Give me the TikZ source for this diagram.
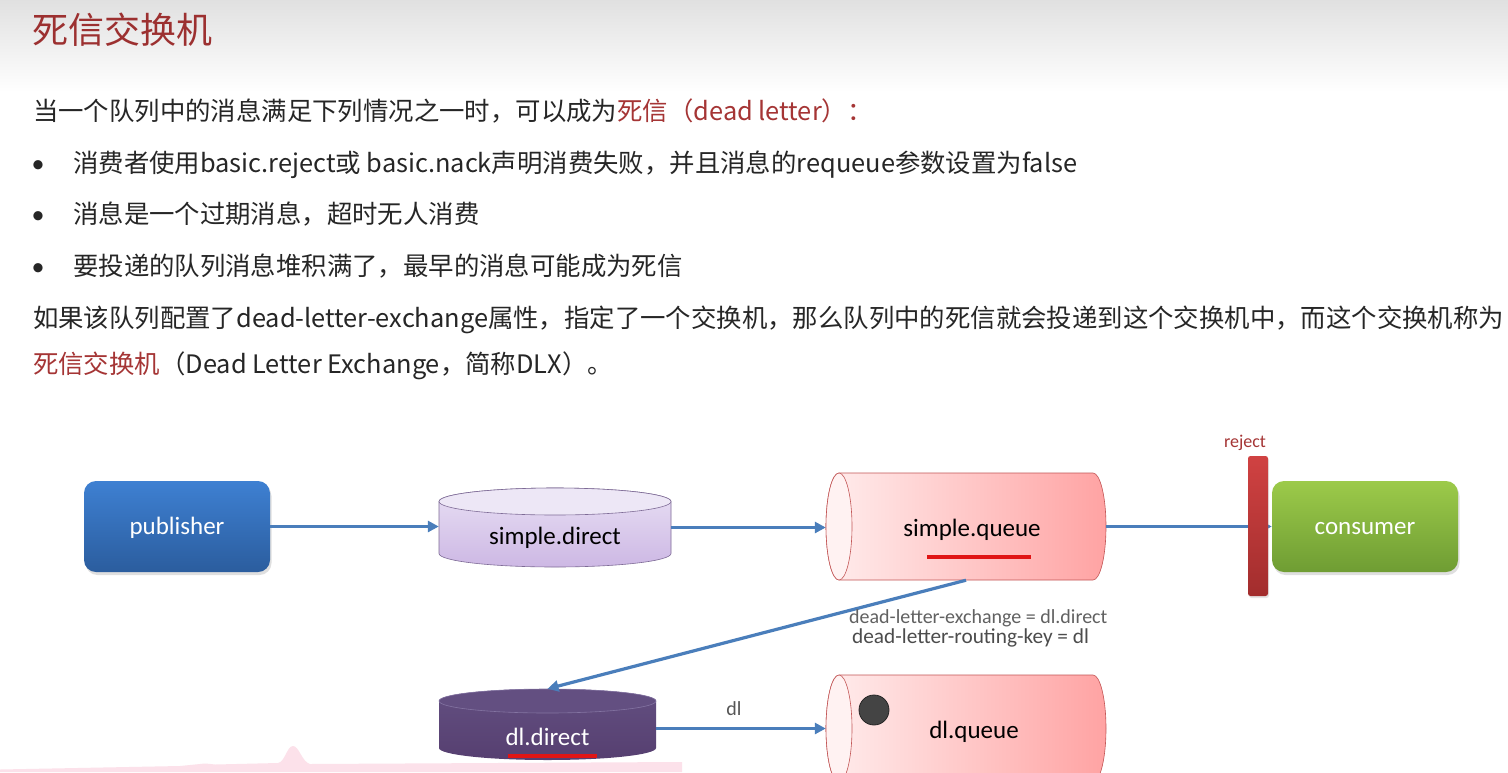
\documentclass[tikz,border=0pt]{standalone}
\usepackage{fontspec}
\setmainfont{Noto Sans CJK SC}
\newfontfamily\latf{Carlito}
\usetikzlibrary{shadows,arrows.meta,calc}
\definecolor{titlered}{HTML}{9C3030}
\definecolor{deadred}{HTML}{A53535}
\definecolor{bodytext}{HTML}{262626}
\definecolor{arrowblue}{HTML}{4A7EBB}
\definecolor{pubtop}{HTML}{3E80D2}
\definecolor{pubbot}{HTML}{2B5D9E}
\definecolor{contop}{HTML}{9CCA4A}
\definecolor{conbot}{HTML}{6F9D33}
\definecolor{sdtop}{HTML}{E8DFF4}
\definecolor{sdbot}{HTML}{CDB8E4}
\definecolor{sdface}{HTML}{EDE7F6}
\definecolor{sdline}{HTML}{7E6B96}
\definecolor{sqleft}{HTML}{FFEDED}
\definecolor{sqright}{HTML}{FFA3A3}
\definecolor{sqface}{HTML}{FFF2F2}
\definecolor{sqline}{HTML}{C25555}
\definecolor{ddtop}{HTML}{634F81}
\definecolor{ddbot}{HTML}{563F70}
\definecolor{ddline}{HTML}{8474A2}
\definecolor{rejtop}{HTML}{D04242}
\definecolor{rejbot}{HTML}{A22D2D}
\definecolor{ulred}{HTML}{E01515}
\definecolor{dlgray}{HTML}{555555}
\definecolor{pinkband}{HTML}{FCE1EA}
\definecolor{dotgray}{HTML}{444444}
\tikzset{
  body/.style={anchor=base west, inner sep=0pt, font=\fontsize{25.4}{30}\selectfont, text=bodytext},
  bulletmark/.style={anchor=base, inner sep=0pt, font=\latf\fontsize{26}{30}\selectfont, text=bodytext},
  lbl/.style={inner sep=0pt, font=\latf\fontsize{25}{30}\selectfont, text height=16.5pt, text depth=0pt},
  small/.style={inner sep=0pt, font=\latf\fontsize{20}{24}\selectfont, text=dlgray},
  rbox/.style={lbl, rounded corners=12pt, minimum width=186pt, minimum height=91pt, text=white,
     drop shadow={opacity=0.25, shadow xshift=1.5pt, shadow yshift=-3pt}},
  region/.style={inner sep=0pt},
  conn/.style={draw=arrowblue, line width=3.2pt, -{Triangle[length=11pt,width=11pt]}},
  uline/.style={draw=ulred, line width=4pt},
}
\begin{document}
\begin{tikzpicture}[x=1pt,y=-1pt]
\useasboundingbox (0,0) rectangle (1508,772);
\clip (0,0) rectangle (1508,772);
\fill[white] (0,0) rectangle (1508,772);
\shade[top color=black!12, bottom color=white] (0,0) rectangle (1508,92);

% texts
\node[anchor=base west, inner sep=0pt, font=\fontsize{36}{40}\selectfont, text=titlered] (title) at (32,43) {死信交换机};
\node[body] (l1) at (33,120.5) {当一个队列中的消息满足下列情况之一时，可以成为\textcolor{deadred}{死信（dead letter）：}};
\node[bulletmark] (b1) at (38,172.5) {•};
\node[body] (l2) at (73,172.5) {消费者使用basic.reject或 basic.nack声明消费失败，并且消息的requeue参数设置为false};
\node[bulletmark] (b2) at (38,223.5) {•};
\node[body] (l3) at (73,223.5) {消息是一个过期消息，超时无人消费};
\node[bulletmark] (b3) at (38,275.5) {•};
\node[body] (l4) at (73,275.5) {要投递的队列消息堆积满了，最早的消息可能成为死信};
\node[body] (l5) at (33,327.5) {如果该队列配置了dead-letter-exchange属性，指定了一个交换机，那么队列中的死信就会投递到这个交换机中，而这个交换机称为};
\node[body] (l6) at (33,373.5) {\textcolor{deadred}{死信交换机}（Dead Letter Exchange，简称DLX）。};

% pink band at the bottom
\fill[pinkband] (0,772) -- (0,769.5) -- (180,766) -- (200,764) .. controls (205,763) and (210,764) .. (215,764.5)
  -- (278,763) .. controls (285,762) and (287,746) .. (293,746) .. controls (299,746) and (302,762) .. (310,764)
  -- (682,762) -- (682,772) -- cycle;

% publisher
\node[rbox, top color=pubtop, bottom color=pubbot] (pub) at (177,526.5) {publisher};

% simple.direct (vertical cylinder)
\shade[top color=sdtop, bottom color=sdbot, draw=sdline, line width=0.6pt]
  (439,501.5) -- (439,553.5) arc[start angle=180,end angle=0,x radius=116,y radius=13.5]
  -- (671,501.5) arc[start angle=0,end angle=-180,x radius=116,y radius=13.5] -- cycle;
\filldraw[fill=sdface, draw=sdline, line width=0.6pt] (555,501.5) ellipse[x radius=116,y radius=13.5];
\node[region, minimum width=232pt, minimum height=79pt] (sd) at (555,527.5) {};
\node[lbl, text=black] (sdt) at (555,536) {simple.direct};

% simple.queue (horizontal cylinder)
\shade[left color=sqleft, right color=sqright, draw=sqline, line width=0.6pt]
  (839,473) -- (1093,473) arc[start angle=-90,end angle=90,x radius=13,y radius=53.5]
  -- (839,580) arc[start angle=90,end angle=270,x radius=13,y radius=53.5] -- cycle;
\filldraw[fill=sqface, draw=sqline, line width=0.6pt] (839,526.5) ellipse[x radius=13,y radius=53.5];
\node[region, minimum width=280pt, minimum height=107pt] (sq) at (966,526.5) {};
\node[lbl, text=black] (sqt) at (972,528) {simple.queue};
\draw[uline] (927,557) -- (1031,557);

% consumer
\node[rbox, top color=contop, bottom color=conbot] (con) at (1365,526.5) {consumer};

% dl.direct (vertical cylinder)
\shade[top color=ddtop, bottom color=ddbot]
  (439,701) -- (439,748) arc[start angle=180,end angle=0,x radius=108.5,y radius=12]
  -- (656,701) arc[start angle=0,end angle=-180,x radius=108.5,y radius=12] -- cycle;
\filldraw[fill=ddtop, draw=ddline, line width=0.6pt] (547.5,701) ellipse[x radius=108.5,y radius=12];
\node[region, minimum width=217pt, minimum height=71pt] (dd) at (547.5,724.5) {};
\node[lbl, text=white] (ddt) at (547.5,737) {dl.direct};
\draw[uline] (508,756) -- (597,756);

% dl.queue (horizontal cylinder)
\shade[left color=sqleft, right color=sqright, draw=sqline, line width=0.6pt]
  (839,675) -- (1093,675) arc[start angle=-90,end angle=90,x radius=13,y radius=53.5]
  -- (839,782) arc[start angle=90,end angle=270,x radius=13,y radius=53.5] -- cycle;
\filldraw[fill=sqface, draw=sqline, line width=0.6pt] (839,728.5) ellipse[x radius=13,y radius=53.5];
\node[region, minimum width=280pt, minimum height=107pt] (dq) at (966,728.5) {};
\node[lbl, text=black] (dqt) at (974,730) {dl.queue};
\filldraw[fill=dotgray, draw=black!85, line width=0.8pt] (874,710) circle[radius=15];

% connectors
\draw[conn] (pub.east) -- (pub.east -| sd.west);
\draw[conn] (sd.east) -- (sd.east -| sq.west);
\draw[conn] (sq.east) -- (con.west);
\draw[conn] (sq.south) -- (dd.north);
\draw[conn] (dd.east |- dq.west) -- (dq.west);

% labels
\node[small] (dll) at (734,709) {dl};
\node[small, anchor=west, font=\latf\fontsize{20}{22}\selectfont, text=black!62] (dlx1) at (849,618) {dead-letter-exchange = dl.direct};
\node[small, anchor=west, font=\latf\fontsize{21.3}{24}\selectfont, text=black!70] (dlx2) at (852,638) {dead-letter-routing-key = dl};

% reject bar
\node[region, rounded corners=2.5pt, minimum width=20pt, minimum height=140pt, top color=rejtop, bottom color=rejbot,
  drop shadow={opacity=0.2, shadow xshift=1pt, shadow yshift=-2pt}] (rej) at (1258,526) {};
\node[inner sep=0pt, font=\latf\fontsize{18}{20}\selectfont, text=deadred] (rejl) at (1245,443) {reject};
\end{tikzpicture}
\end{document}
